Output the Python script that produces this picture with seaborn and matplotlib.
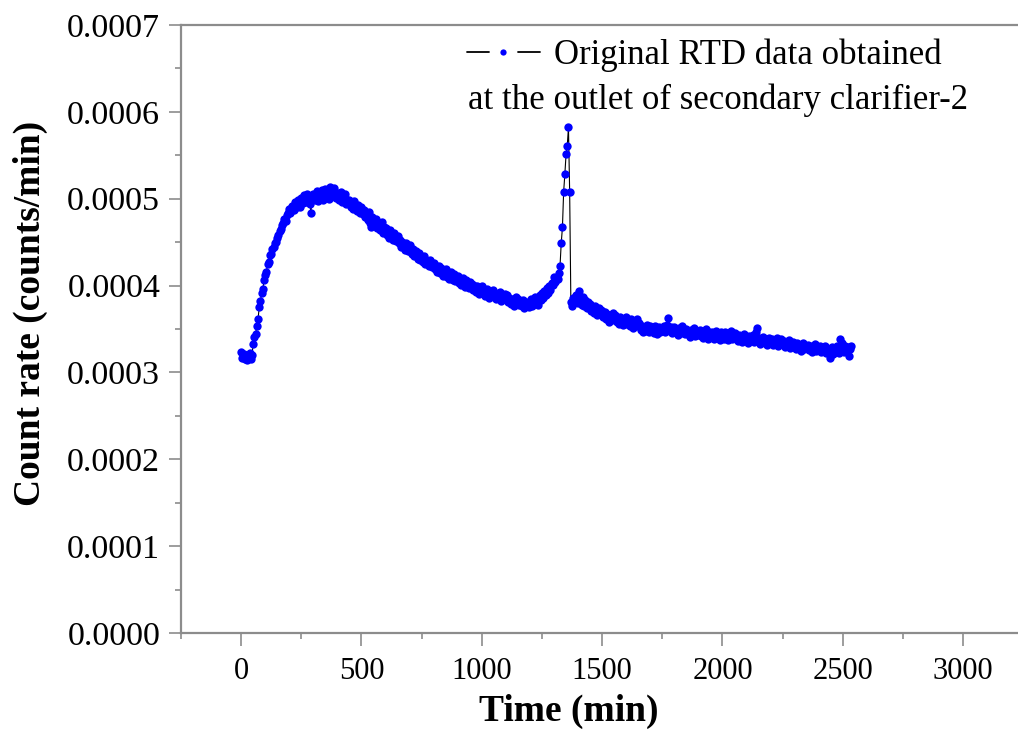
import numpy as np
import pandas as pd
import matplotlib
matplotlib.use("Agg")
import matplotlib.pyplot as plt
from matplotlib.lines import Line2D
from matplotlib.legend_handler import HandlerTuple
from matplotlib.ticker import MultipleLocator, FormatStrFormatter
import seaborn as sns

# ---------------- data ----------------
time_min = [
    0, 5, 10, 15, 20, 25, 30, 35, 40, 45,
    50, 55, 60, 65, 70, 75, 80, 85, 90, 95,
    100, 105, 110, 115, 120, 125, 130, 135, 140, 145,
    150, 155, 160, 165, 170, 175, 180, 185, 190, 195,
    200, 205, 210, 215, 220, 225, 230, 235, 240, 245,
    250, 255, 260, 265, 270, 275, 280, 285, 290, 295,
    300, 305, 310, 315, 320, 325, 330, 335, 340, 345,
    350, 355, 360, 365, 370, 375, 380, 385, 390, 395,
    400, 405, 410, 415, 420, 425, 430, 435, 440, 445,
    450, 455, 460, 465, 470, 475, 480, 485, 490, 495,
    500, 505, 510, 515, 520, 525, 530, 535, 540, 545,
    550, 555, 560, 565, 570, 575, 580, 585, 590, 595,
    600, 605, 610, 615, 620, 625, 630, 635, 640, 645,
    650, 655, 660, 665, 670, 675, 680, 685, 690, 695,
    700, 705, 710, 715, 720, 725, 730, 735, 740, 745,
    750, 755, 760, 765, 770, 775, 780, 785, 790, 795,
    800, 805, 810, 815, 820, 825, 830, 835, 840, 845,
    850, 855, 860, 865, 870, 875, 880, 885, 890, 895,
    900, 905, 910, 915, 920, 925, 930, 935, 940, 945,
    950, 955, 960, 965, 970, 975, 980, 985, 990, 995,
    1000, 1005, 1010, 1015, 1020, 1025, 1030, 1035, 1040, 1045,
    1050, 1055, 1060, 1065, 1070, 1075, 1080, 1085, 1090, 1095,
    1100, 1105, 1110, 1115, 1120, 1125, 1130, 1135, 1140, 1145,
    1150, 1155, 1160, 1165, 1170, 1175, 1180, 1185, 1190, 1195,
    1200, 1205, 1210, 1215, 1220, 1225, 1230, 1235, 1240, 1245,
    1250, 1255, 1260, 1265, 1270, 1275, 1280, 1285, 1290, 1295,
    1300, 1305, 1310, 1315, 1320, 1325, 1330, 1335, 1340, 1345,
    1350, 1355, 1360, 1365, 1370, 1375, 1380, 1385, 1390, 1395,
    1400, 1405, 1410, 1415, 1420, 1425, 1430, 1435, 1440, 1445,
    1450, 1455, 1460, 1465, 1470, 1475, 1480, 1485, 1490, 1495,
    1500, 1505, 1510, 1515, 1520, 1525, 1530, 1535, 1540, 1545,
    1550, 1555, 1560, 1565, 1570, 1575, 1580, 1585, 1590, 1595,
    1600, 1605, 1610, 1615, 1620, 1625, 1630, 1635, 1640, 1645,
    1650, 1655, 1660, 1665, 1670, 1675, 1680, 1685, 1690, 1695,
    1700, 1705, 1710, 1715, 1720, 1725, 1730, 1735, 1740, 1745,
    1750, 1755, 1760, 1765, 1770, 1775, 1780, 1785, 1790, 1795,
    1800, 1805, 1810, 1815, 1820, 1825, 1830, 1835, 1840, 1845,
    1850, 1855, 1860, 1865, 1870, 1875, 1880, 1885, 1890, 1895,
    1900, 1905, 1910, 1915, 1920, 1925, 1930, 1935, 1940, 1945,
    1950, 1955, 1960, 1965, 1970, 1975, 1980, 1985, 1990, 1995,
    2000, 2005, 2010, 2015, 2020, 2025, 2030, 2035, 2040, 2045,
    2050, 2055, 2060, 2065, 2070, 2075, 2080, 2085, 2090, 2095,
    2100, 2105, 2110, 2115, 2120, 2125, 2130, 2135, 2140, 2145,
    2150, 2155, 2160, 2165, 2170, 2175, 2180, 2185, 2190, 2195,
    2200, 2205, 2210, 2215, 2220, 2225, 2230, 2235, 2240, 2245,
    2250, 2255, 2260, 2265, 2270, 2275, 2280, 2285, 2290, 2295,
    2300, 2305, 2310, 2315, 2320, 2325, 2330, 2335, 2340, 2345,
    2350, 2355, 2360, 2365, 2370, 2375, 2380, 2385, 2390, 2395,
    2400, 2405, 2410, 2415, 2420, 2425, 2430, 2435, 2440, 2445,
    2450, 2455, 2460, 2465, 2470, 2475, 2480, 2485, 2490, 2495,
    2500, 2505, 2510, 2515, 2520, 2525, 2530, 2535,
]

# count rate in units of 1e-6 counts/min
count_rate_1e6 = [
    323, 317, 321, 315, 319, 314, 318, 322, 316, 320,
    333, 341, 344, 354, 361, 375, 382, 391, 396, 406,
    412, 416, 425, 427, 435, 436, 442, 444, 449, 450,
    455, 458, 463, 465, 470, 472, 477, 474, 481, 484,
    488, 483, 492, 489, 487, 496, 490, 499, 493, 491,
    501, 495, 504, 499, 496, 505, 500, 494, 484, 503,
    506, 499, 503, 509, 497, 505, 501, 510, 498, 507,
    511, 504, 507, 500, 513, 509, 503, 512, 506, 501,
    507, 498, 503, 508, 496, 501, 505, 494, 499, 497,
    499, 490, 494, 488, 497, 491, 486, 493, 489, 484,
    490, 482, 487, 479, 484, 476, 485, 472, 468, 479,
    474, 470, 477, 466, 471, 464, 469, 473, 461, 467,
    466, 458, 462, 455, 464, 457, 452, 460, 454, 451,
    457, 449, 452, 444, 450, 447, 441, 449, 443, 440,
    447, 439, 436, 442, 434, 440, 437, 431, 438, 429,
    432, 427, 434, 425, 430, 428, 422, 429, 424, 421,
    426, 419, 423, 416, 422, 414, 420, 417, 411, 418,
    419, 410, 414, 408, 416, 411, 406, 413, 405, 409,
    411, 403, 407, 401, 409, 404, 398, 406, 400, 397,
    404, 398, 402, 395, 400, 393, 399, 396, 390, 397,
    399, 391, 394, 388, 396, 390, 386, 393, 389, 395,
    387, 392, 384, 389, 386, 393, 382, 388, 385, 390,
    384, 389, 381, 386, 379, 385, 383, 377, 387, 381,
    385, 378, 382, 376, 383, 374, 380, 377, 381, 375,
    379, 384, 376, 382, 387, 380, 385, 378, 389, 383,
    391, 386, 394, 389, 397, 392, 399, 395, 403, 401,
    410, 404, 409, 407, 414, 423, 449, 467, 508, 528,
    551, 561, 582, 508, 381, 376, 386, 380, 389, 383,
    380, 394, 385, 378, 387, 376, 383, 374, 381, 377,
    379, 371, 375, 368, 377, 370, 366, 374, 369, 372,
    371, 364, 369, 361, 367, 363, 358, 366, 362, 368,
    360, 366, 358, 363, 356, 364, 361, 355, 362, 359,
    364, 356, 360, 353, 361, 357, 351, 359, 355, 362,
    353, 357, 349, 354, 346, 352, 348, 355, 350, 347,
    354, 348, 351, 345, 353, 349, 344, 352, 347, 351,
    349, 353, 346, 351, 355, 363, 348, 352, 345, 350,
    352, 346, 350, 343, 351, 347, 354, 345, 349, 344,
    350, 344, 348, 341, 349, 345, 351, 342, 347, 343,
    346, 349, 342, 347, 340, 345, 350, 343, 339, 346,
    341, 347, 343, 338, 345, 348, 340, 344, 337, 346,
    343, 339, 346, 340, 344, 337, 342, 348, 338, 341,
    345, 338, 342, 336, 343, 339, 335, 341, 344, 337,
    340, 334, 342, 337, 339, 343, 335, 338, 346, 351,
    338, 333, 340, 336, 341, 334, 339, 332, 337, 340,
    335, 339, 332, 337, 333, 340, 331, 336, 334, 338,
    333, 336, 329, 334, 331, 337, 328, 333, 330, 335,
    331, 327, 334, 329, 332, 325, 330, 334, 327, 331,
    328, 332, 326, 330, 324, 331, 327, 333, 325, 329,
    327, 330, 323, 328, 325, 331, 322, 327, 324, 317,
    325, 329, 321, 327, 323, 330, 326, 322, 339, 334,
    328, 323, 331, 325, 329, 319, 327, 330,
]

legend_line1 = "Original RTD data obtained"
legend_line2 = "at the outlet of secondary clarifier-2"
x_label = "Time (min)"
y_label = "Count rate (counts/min)"
x_ticks = [0, 500, 1000, 1500, 2000, 2500, 3000]

df = pd.DataFrame({"time": time_min,
                   "rate": np.array(count_rate_1e6, dtype=float) * 1e-6})

# ---------------- styling ----------------
sns.set_theme(style="white")
plt.rcParams["font.family"] = ["Liberation Serif", "DejaVu Serif"]
for k in ["text.color", "axes.labelcolor", "xtick.labelcolor", "ytick.labelcolor"]:
    plt.rcParams[k] = "black"

W, H = 1018, 732
fig = plt.figure(figsize=(W / 100, H / 100), dpi=100)
L, R, B, T = 181, 1018, 633, 25
ax = fig.add_axes([L / W, 1 - B / H, (R - L) / W, (B - T) / H])

sns.lineplot(data=df, x="time", y="rate", ax=ax, estimator=None, sort=False,
             color="black", linewidth=0.8, marker="o", markersize=6,
             markerfacecolor="#0000ff", markeredgecolor="#0000ff",
             markeredgewidth=0, legend=False)

ax.set_xlim(-250, 3228)
ax.set_ylim(0, 0.0007)

spine_c = "#8c8c8c"
for s in ["left", "bottom", "top"]:
    ax.spines[s].set_color(spine_c)
    ax.spines[s].set_linewidth(1.6)
ax.spines["right"].set_visible(False)

ax.xaxis.set_major_locator(MultipleLocator(500))
ax.xaxis.set_minor_locator(MultipleLocator(250))
ax.yaxis.set_major_locator(MultipleLocator(0.0001))
ax.yaxis.set_minor_locator(MultipleLocator(0.00005))
ax.yaxis.set_major_formatter(FormatStrFormatter("%.4f"))
ax.set_xticks(x_ticks)
ax.set_xticklabels([str(v) for v in x_ticks])

ax.tick_params(axis="both", which="major", direction="out", length=9, width=1.2,
               color=spine_c, bottom=True, left=True, top=False, right=False)
ax.tick_params(axis="both", which="minor", direction="out", length=4.5, width=1.2,
               color=spine_c, bottom=True, left=True, top=False, right=False)
ax.tick_params(axis="y", which="major", labelsize=24.5, pad=6, labelcolor="black")
ax.tick_params(axis="x", which="major", labelsize=22, pad=8, labelcolor="black")

ax.set_xlabel(x_label, fontsize=27, fontweight="bold", color="black")
ax.set_ylabel(y_label, fontsize=27, fontweight="bold", color="black")
ax.xaxis.set_label_coords(0.4636, -0.100)
ax.yaxis.set_label_coords(-0.159, 0.526)

# legend (first line with handle "— • —") + second line as text
seg_l = Line2D([], [], color="black", linewidth=1.3)
dot = Line2D([], [], linestyle="none", marker="o", markersize=4.5,
             markerfacecolor="#0000ff", markeredgecolor="#0000ff", markeredgewidth=0)
seg_r = Line2D([], [], color="black", linewidth=1.3)
ax.legend([(seg_l, dot, seg_r)], [legend_line1], loc="center left",
          handler_map={tuple: HandlerTuple(ndivide=None, pad=0.1)},
          bbox_to_anchor=((467 - L) / (R - L), (B - 55) / (B - T)),
          frameon=False, fontsize=25, handlelength=2.1, handletextpad=0.4,
          borderpad=0, borderaxespad=0, numpoints=1, labelcolor="black")
ax.text((468 - L) / (R - L), (B - 100) / (B - T), legend_line2,
        transform=ax.transAxes, fontsize=25, ha="left", va="center", color="black")

fig.savefig("out.png", dpi=100)
